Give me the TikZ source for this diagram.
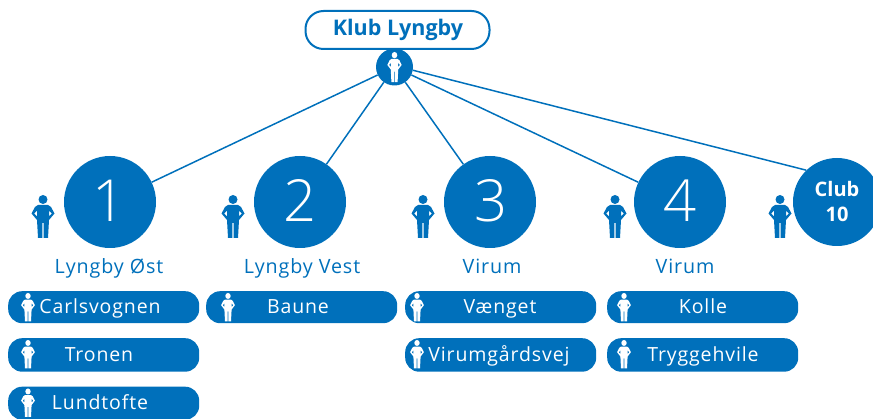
\documentclass[tikz,border=0pt]{standalone}
\usepackage{fontspec}
\setmainfont{Open Sans}
\newfontfamily\spaced[LetterSpace=4.5]{Open Sans}
\newfontfamily\thinfig{Open Sans Light}
\definecolor{klub}{HTML}{0070BB}
\newcommand{\fs}[1]{\fontsize{#1}{#1}\selectfont}
\tikzset{
  x=1pt,y=-1pt,
  person/.pic={
    \path[pic actions] (0,4.5) circle[radius=4.5];
    \path[pic actions,even odd rule]
      (-5,10) -- (5,10) -- (8,12) -- (11.5,18.5) -- (6,25) -- (5,43) -- (0.7,43) -- (0.7,28) -- (-0.7,28) -- (-0.7,43) -- (-5,43) -- (-6,25) -- (-11.5,18.5) -- (-8,12) -- cycle
      (6,15.5) -- (8.8,18.5) -- (6,21.5) -- cycle
      (-6,15.5) -- (-8.8,18.5) -- (-6,21.5) -- cycle;
  },
  bigc/.style={circle,fill=klub,text=white,inner sep=0pt,minimum size=92pt},
  num/.style={font=\thinfig\fs{58}},
  link/.style={draw=klub,line width=1.5pt},
  teambar/.style={rectangle,fill=klub,rounded corners=14pt,inner sep=0pt,minimum width=191pt},
  bartext/.style={text=white,font=\spaced\fs{19.5},inner sep=0pt,anchor=base},
  area/.style={text=klub,font=\spaced\fs{19.7},inner sep=0pt,anchor=base},
}
\newcommand{\teambar}[8]{% name, left x, top, height, person x, text x, baseline, text
  \node[teambar,minimum height=#4pt,anchor=north west] (#1) at (#2,#3) {};
  \pic[fill=white,xscale=0.6,yscale=0.66] at (#5,{#3+2}) {person};
  \node[bartext] (#1t) at (#6,#7) {#8};
}
\begin{document}
\begin{tikzpicture}
\useasboundingbox (0,0) rectangle (873,419);
\node[bigc] (c1) at (110,202) {};
\node[bigc] (c2) at (300,202) {};
\node[bigc] (c3) at (490,202) {};
\node[bigc] (c4) at (680,202) {};
\node[circle,fill=klub,text=white,inner sep=0pt,minimum size=88pt,align=center,font=\fs{20}\bfseries] (c5) at (837,202) {Club\\[5pt]10};
\node[num,text=white] (n1) at (109,201) {1};
\node[num,text=white] (n2) at (300,201) {2};
\node[num,text=white] (n3) at (491,201) {3};
\node[num,text=white] (n4) at (680,201) {4};
\node[circle,fill=klub,inner sep=0pt,minimum size=37pt] (hub) at (394.5,67) {};
\draw[link] (hub) -- (c1);
\draw[link] (hub) -- (c2);
\draw[link] (hub) -- (c3);
\draw[link] (hub) -- (c4);
\draw[link] (hub.-10) -- (c5.134);
\pic[fill=white,xscale=0.62,yscale=0.7] at (394.5,52) {person};
\node[draw=klub,line width=2pt,fill=white,rounded corners=18pt,minimum width=184pt,minimum height=38pt,inner sep=0pt] (top) at (397.5,30) {};
\node[text=klub,font=\fs{21.5}\bfseries,inner sep=0pt,anchor=base] (toptext) at (398,35.5) {Klub Lyngby};
\pic[fill=klub] at (43,195) {person};
\pic[fill=klub] at (233,195) {person};
\pic[fill=klub] at (423,195) {person};
\pic[fill=klub] at (615,195) {person};
\pic[fill=klub] at (780,195) {person};
\node[area] (a1) at (109,274) {Lyngby Øst};
\node[area] (a2) at (302,274) {Lyngby Vest};
\node[area] (a3) at (492,274) {Virum};
\node[area] (a4) at (685,274) {Virum};
\teambar{b1}{8}{291}{32}{28}{100}{313.5}{Carlsvognen}
\teambar{b2}{8}{338}{33.5}{28}{99}{361.5}{Tronen}
\teambar{b3}{8}{386.5}{33}{28}{100}{409.5}{Lundtofte}
\teambar{b4}{206}{291}{32}{228}{298}{313.5}{Baune}
\teambar{b5}{405}{291}{32}{417}{500}{313.5}{Vænget}
\teambar{b6}{405}{338}{33.5}{417}{499}{361.5}{Virumgårdsvej}
\teambar{b7}{607}{291}{32}{624}{703}{313.5}{Kolle}
\teambar{b8}{607}{338}{33.5}{624}{703}{361.5}{Tryggehvile}
\end{tikzpicture}
\end{document}
